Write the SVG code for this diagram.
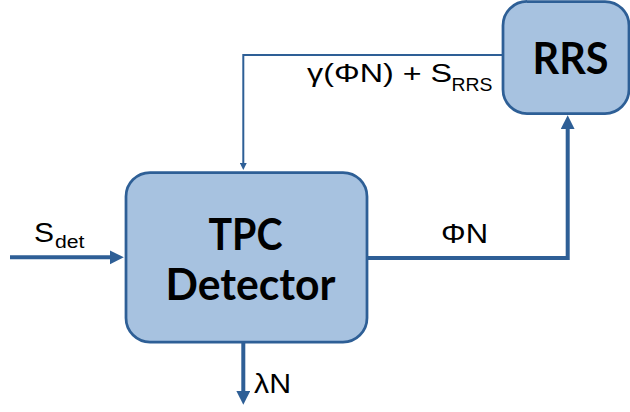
<svg xmlns="http://www.w3.org/2000/svg" width="630" height="412" viewBox="0 0 630 412">
  <defs>
    <marker id="arrow" markerUnits="strokeWidth" markerWidth="3.6" markerHeight="3.6" refX="0.05" refY="1.75" orient="auto">
      <path d="M0,0 L3.5,1.75 L0,3.5 z" fill="#2e5f96"/>
    </marker>
    <style>
      .box { fill: #a7c2e0; stroke: #2e5f96; stroke-width: 2.75; }
      .conn { fill: none; stroke: #2e5f96; stroke-linejoin: miter; }
      .thick { stroke-width: 4; }
      .thin { stroke-width: 2; }
      .lbl { font-family: "Liberation Sans", Arial, sans-serif; fill: #000; }
      .title { font-family: Lato, "Open Sans", sans-serif; font-weight: 700; fill: #000; text-anchor: middle; }
    </style>
  </defs>
  <rect width="630" height="412" fill="#ffffff"/>

  <g id="connectors">
    <path class="conn thick" d="M10,257.3 H110" marker-end="url(#arrow)"/>
    <path class="conn thick" d="M367,258 H567.7 V129" marker-end="url(#arrow)"/>
    <path class="conn thin" d="M503,55 H243.3 V163" marker-end="url(#arrow)"/>
    <path class="conn thick" d="M243.3,342 V391" marker-end="url(#arrow)"/>
  </g>

  <g id="tpc-detector">
    <rect class="box" x="126" y="172.5" width="241" height="169.5" rx="24" ry="24"/>
    <text class="title" x="245.5" y="250" font-size="44" textLength="74" lengthAdjust="spacingAndGlyphs">TPC</text>
    <text class="title" x="250.5" y="300" font-size="44" textLength="170" lengthAdjust="spacingAndGlyphs">Detector</text>
  </g>

  <g id="rrs">
    <rect class="box" x="503" y="1.5" width="126" height="112" rx="24" ry="24"/>
    <text class="title" x="570.5" y="73.5" font-size="43" textLength="76" lengthAdjust="spacingAndGlyphs">RRS</text>
  </g>

  <g id="labels">
    <text class="lbl" font-size="27"><tspan x="34" y="241.7" textLength="20" lengthAdjust="spacingAndGlyphs">S</tspan><tspan x="55" y="248.3" font-size="18" textLength="29.5" lengthAdjust="spacingAndGlyphs">det</tspan></text>
    <text class="lbl" font-size="25"><tspan x="307" y="82.3" textLength="145" lengthAdjust="spacingAndGlyphs">γ(ΦN) + S</tspan><tspan x="451.5" y="91" font-size="19" textLength="41" lengthAdjust="spacingAndGlyphs">RRS</tspan></text>
    <text class="lbl" x="441" y="243.3" font-size="27" textLength="47" lengthAdjust="spacingAndGlyphs">ΦN</text>
    <text class="lbl" x="254" y="392.5" font-size="28" textLength="37" lengthAdjust="spacingAndGlyphs">λN</text>
  </g>
</svg>
